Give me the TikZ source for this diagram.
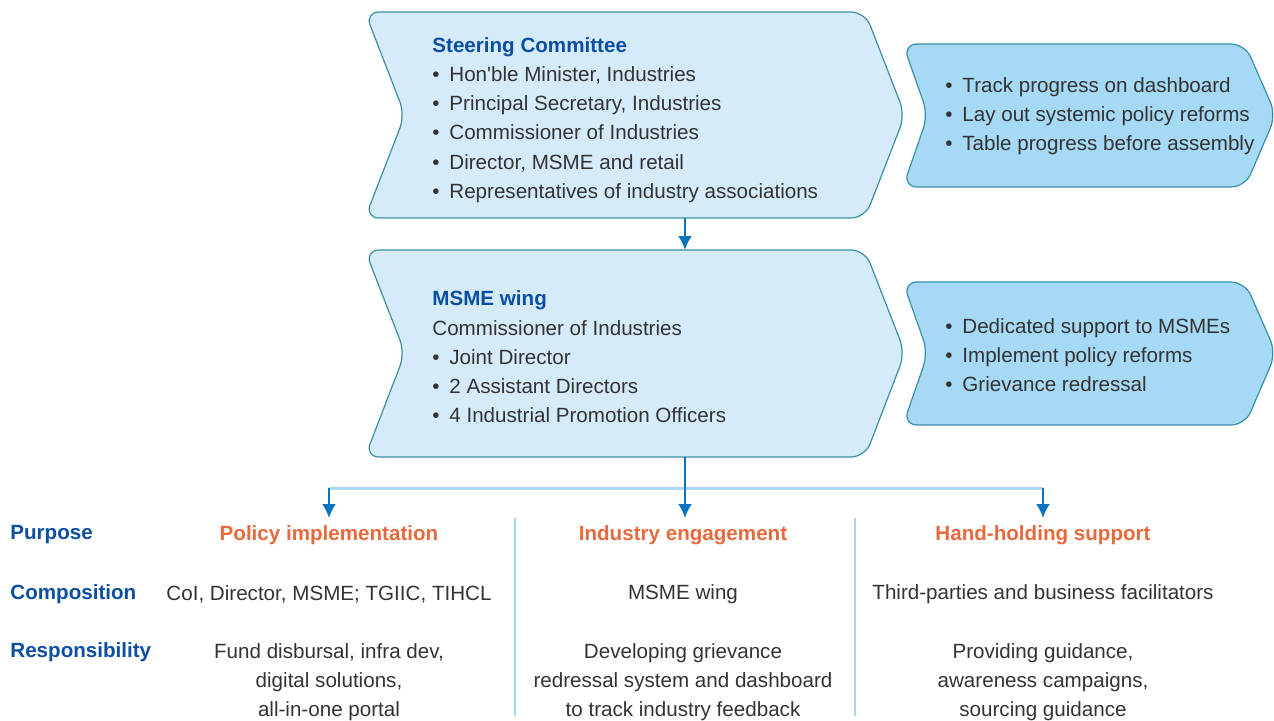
\documentclass[tikz,border=0pt]{standalone}
\usepackage{fontspec}
\setmainfont{Liberation Sans}
\usetikzlibrary{arrows.meta}
\definecolor{chevlight}{HTML}{D5EBFA}
\definecolor{chevdark}{HTML}{A5D9F5}
\definecolor{chevline}{HTML}{3A8FA8}
\definecolor{headblue}{HTML}{0B4EA2}
\definecolor{headorange}{HTML}{E8693C}
\definecolor{arrowblue}{HTML}{0C74BE}
\definecolor{splitblue}{HTML}{A6D8F5}
\definecolor{bodytext}{HTML}{333333}
\newcommand{\itm}{\makebox[8.5pt][l]{\textbullet}}

\begin{document}
\begin{tikzpicture}[x=0.5pt, y=-0.5pt, >={Latex[length=7pt,width=7pt]},
  chev/.style={draw=chevline, line width=0.6pt, rounded corners=7pt},
  body/.style={font=\fontsize{10.3}{14.6}\selectfont, text=bodytext, inner sep=0pt, align=left},
  rowlabel/.style={font=\fontsize{10.3}{14.6}\selectfont\bfseries, text=headblue, inner sep=0pt, anchor=west},
  colhead/.style={font=\fontsize{10.3}{14.6}\selectfont\bfseries, text=headorange, inner sep=0pt},
  cell/.style={font=\fontsize{10.3}{14.6}\selectfont, text=bodytext, inner sep=0pt, align=center},
  link/.style={->, draw=arrowblue, line width=1.2pt}]
\useasboundingbox (0,0) rectangle (1274,720);

% chevrons
\draw[chev, fill=chevlight] (405,115) -- (365,12) -- (865,12) -- (905,115) -- (865,218) -- (365,218) -- cycle;
\draw[chev, fill=chevlight] (405,353) -- (365,250) -- (865,250) -- (905,353) -- (865,457) -- (365,457) -- cycle;
\draw[chev, fill=chevdark] (928,115) -- (903,44) -- (1245,44) -- (1276,115) -- (1245,187) -- (903,187) -- cycle;
\draw[chev, fill=chevdark] (928,353) -- (903,282) -- (1245,282) -- (1276,353) -- (1245,425) -- (903,425) -- cycle;

% texts in the chevrons
\node[body, anchor=west] (steer) at (432,120) {{\bfseries\color{headblue}Steering Committee}\\
  \itm Hon\textquotesingle ble Minister, Industries\\
  \itm Principal Secretary, Industries\\
  \itm Commissioner of Industries\\
  \itm Director, MSME and retail\\
  \itm Representatives of industry associations};
\node[body, anchor=west] (steerjob) at (945,116) {\itm Track progress on dashboard\\
  \itm Lay out systemic policy reforms\\
  \itm Table progress before assembly};
\node[body, anchor=west] (wing) at (432,357) {{\bfseries\color{headblue}MSME wing}\\
  Commissioner of Industries\\
  \itm Joint Director\\
  \itm 2 Assistant Directors\\
  \itm 4 Industrial Promotion Officers};
\node[body, anchor=west] (wingjob) at (945,355) {\itm Dedicated support to MSMEs\\
  \itm Implement policy reforms\\
  \itm Grievance redressal};

% connectors
\coordinate (steer-s) at (685,218);
\coordinate (wing-n) at (685,250);
\coordinate (wing-s) at (685,457);
\coordinate (split-l) at (329,488);
\coordinate (split-r) at (1043,488);
\coordinate (pol-in) at (329,518);
\coordinate (ind-in) at (685,518);
\coordinate (hand-in) at (1043,518);
\draw[link] (steer-s) -- (wing-n);
\draw[splitblue, line width=1.5pt] (split-l) -- (split-r);
\draw[link] (split-l) -- (pol-in);
\draw[link] (split-r) -- (hand-in);
\draw[link] (wing-s) -- (ind-in);

% separators
\draw[splitblue, line width=1pt] (515,518) -- (515,716);
\draw[splitblue, line width=1pt] (855,518) -- (855,716);

% table
\node[rowlabel] (purpose) at (10,535) {Purpose};
\node[rowlabel] (compo) at (10,594) {Composition};
\node[rowlabel] (resp) at (10,652) {Responsibility};

\node[colhead] (pol) at (329,535) {Policy implementation};
\node[colhead] (ind) at (683,535) {Industry engagement};
\node[colhead] (hand) at (1043,535) {Hand-holding support};

\node[cell] (pol-c) at (329,594) {CoI, Director, MSME; TGIIC, TIHCL};
\node[cell] (ind-c) at (683,594) {MSME wing};
\node[cell] (hand-c) at (1043,594) {Third-parties and business facilitators};

\node[cell] (pol-r) at (329,682) {Fund disbursal, infra dev,\\ digital solutions,\\ all-in-one portal};
\node[cell] (ind-r) at (683,682) {Developing grievance\\ redressal system and dashboard\\ to track industry feedback};
\node[cell] (hand-r) at (1043,682) {Providing guidance,\\ awareness campaigns,\\ sourcing guidance};
\end{tikzpicture}
\end{document}
